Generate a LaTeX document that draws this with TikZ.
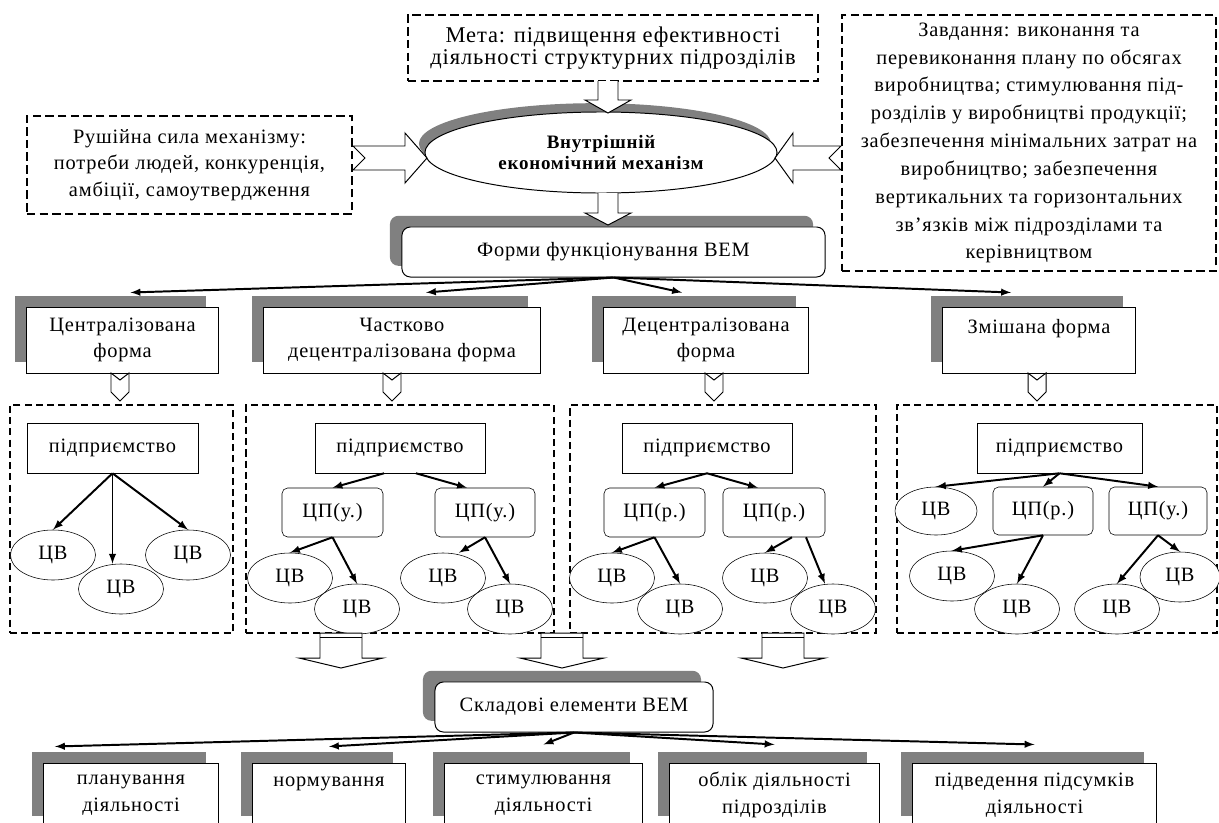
\documentclass[tikz,border=0pt]{standalone}
\usepackage{fontspec}
\setmainfont{Liberation Serif}[LetterSpace=4]
\usepackage{tikz}
\usetikzlibrary{shapes.geometric,shadows}

\tikzset{
  dashbox/.style={draw, dash pattern=on 6pt off 3pt, line width=1.5pt, align=center, inner sep=0pt},
  zone/.style={draw, dash pattern=on 5pt off 3pt, line width=1.3pt, inner sep=0pt},
  shadowbox/.style={draw, fill=white, align=center, inner sep=0pt, line width=0.7pt,
    drop shadow={shadow xshift=-0.3cm, shadow yshift=0.28cm, fill=gray, opacity=1}},
  mech/.style={ellipse, draw, fill=white, align=center, inner sep=0pt, line width=0.7pt,
    minimum width=8.8cm, minimum height=2.025cm, font=\fontsize{13.5}{15}\selectfont\bfseries,
    drop shadow={shadow xshift=-0.15cm, shadow yshift=0.22cm, fill=gray, opacity=1}},
  entbox/.style={draw, fill=white, inner sep=0pt, minimum height=1.25cm},
  cpbox/.style={draw, fill=white, rounded corners=4pt, inner sep=0pt, minimum height=1.225cm},
  cvnode/.style={ellipse, draw, fill=white, inner sep=0pt, minimum width=2.125cm, minimum height=1.25cm},
  link/.style={-latex, line width=1.4pt},
  fatarrow/.style={draw, fill=white, line width=0.7pt}
}

\begin{document}
\begin{tikzpicture}[x=0.025cm, y=-0.025cm, font=\fontsize{14.5}{19}\selectfont]
  \useasboundingbox (0,0) rectangle (1219,823);
  \clip (0,0) rectangle (1219,823);

  \node[dashbox, minimum width=10.25cm, minimum height=1.65cm, font=\fontsize{16}{16}\selectfont] (goal) at (613,48)
    {Мета: підвищення ефективності\\діяльності структурних підрозділів};
  \node[dashbox, minimum width=8.125cm, minimum height=2.45cm] (force) at (189.5,165)
    {Рушійна сила механізму:\\потреби людей, конкуренція,\\амбіції, самоутвердження};
  \node[dashbox, minimum width=9.35cm, minimum height=6.4cm, font=\fontsize{14.5}{19.8}\selectfont] (tasks) at (1029,143)
    {Завдання: виконання та\\перевиконання плану по обсягах\\виробництва; стимулювання під-\\розділів у виробництві продукції;\\забезпечення мінімальних затрат на\\виробництво; забезпечення\\вертикальних та горизонтальних\\зв’язків між підрозділами та\\керівництвом};

  \node[mech] (vem) at (601,152.5) {Внутрішній\\економічний механізм};

  \draw[fatarrow] (598,81) -- (598,100) -- (585,100) -- (608,113) -- (631,100) -- (618,100) -- (618,81);
  \draw[fatarrow] (353,146) -- (405,146) -- (405,133) -- (427,158) -- (405,183) -- (405,170) -- (353,170) -- (365,158) -- cycle;
  \draw[fatarrow] (841,146) -- (793,146) -- (793,133) -- (775,158) -- (793,183) -- (793,170) -- (841,170) -- (829,158) -- cycle;

  \node[shadowbox, rounded corners=6pt, minimum width=10.575cm, minimum height=1.25cm] (forms) at (613.5,252)
    {Форми функціонування ВЕМ};
  \draw[fatarrow] (598,193) -- (598,213) -- (585,213) -- (608,225) -- (631,213) -- (618,213) -- (618,193);

  \node[shadowbox, minimum width=4.775cm, minimum height=1.65cm] (central) at (122.5,340) {Централізована\\форма};
  \node[shadowbox, minimum width=6.9cm, minimum height=1.65cm] (partial) at (402,340) {Частково\\децентралізована форма};
  \node[shadowbox, minimum width=5.1cm, minimum height=1.65cm] (decentral) at (706,340) {Децентралізована\\форма};
  \node[shadowbox, minimum width=4.8cm, minimum height=1.65cm] (mixed) at (1039,340) {Змішана форма\\\mbox{}};

  \draw[link] (forms.south) -- ([xshift=0.2cm,yshift=0.35cm]central.north);
  \draw[link] (forms.south) -- ([xshift=0.6cm,yshift=0.35cm]partial.north);
  \draw[link] (forms.south) -- ([xshift=-0.6cm,yshift=0.35cm]decentral.north);
  \draw[link] (forms.south) -- ([xshift=-0.7cm,yshift=0.35cm]mixed.north);

  \draw[fatarrow] (111,373) -- (120,380) -- (129,373) -- (129,392) -- (120,401) -- (111,392) -- cycle;
  \draw[fatarrow] (383,373) -- (392,380) -- (401,373) -- (401,392) -- (392,401) -- (383,392) -- cycle;
  \draw[fatarrow] (705,373) -- (714,380) -- (723,373) -- (723,392) -- (714,401) -- (705,392) -- cycle;
  \draw[fatarrow] (1028,373) -- (1037,380) -- (1046,373) -- (1046,392) -- (1037,401) -- (1028,392) -- cycle;

  \node[zone, minimum width=5.575cm, minimum height=5.7cm] (zone1) at (121.5,519) {};
  \node[zone, minimum width=7.7cm, minimum height=5.7cm] (zone2) at (400,519) {};
  \node[zone, minimum width=7.65cm, minimum height=5.7cm, line width=1pt] (zone3) at (723,519) {};
  \node[zone, minimum width=8cm, minimum height=5.7cm, line width=1pt] (zone4) at (1057,519) {};

  \node[entbox, minimum width=4.275cm] (ent1) at (112.5,448) {підприємство};
  \node[cvnode] (cv11) at (53,555) {ЦВ};
  \node[cvnode] (cv13) at (188,555) {ЦВ};
  \node[cvnode] (cv12) at (121,589) {ЦВ};
  \draw[link] (ent1.south) -- (cv11.north);
  \draw[link] (ent1.south) -- (ent1.south |- cv12.north);
  \draw[link] (ent1.south) -- (cv13.north);

  \node[entbox, minimum width=4.25cm] (ent2) at (400,448) {підприємство};
  \node[cpbox, minimum width=2.525cm] (cp21) at (332.5,512.5) {ЦП(у.)};
  \node[cpbox, minimum width=2.5cm] (cp22) at (485,512.5) {ЦП(у.)};
  \node[cvnode] (cv21) at (290,578) {ЦВ};
  \node[cvnode] (cv23) at (443,578) {ЦВ};
  \node[cvnode] (cv22) at (357,609) {ЦВ};
  \node[cvnode] (cv24) at (510,609) {ЦВ};
  \draw[link] ([xshift=-0.4cm]ent2.south) -- (cp21.north);
  \draw[link] ([xshift=0.4cm]ent2.south) -- ([xshift=-0.45cm]cp22.north);
  \draw[link] (cp21.south) -- (cv21.north);
  \draw[link] (cp21.south) -- (cv22.north);
  \draw[link] (cp22.south) -- ([xshift=0.4cm]cv23.north);
  \draw[link] (cp22.south) -- (cv24.north);

  \node[entbox, minimum width=4.25cm] (ent3) at (707,448) {підприємство};
  \node[cpbox, minimum width=2.525cm] (cp31) at (654.5,512.5) {ЦП(р.)};
  \node[cpbox, minimum width=2.55cm] (cp32) at (774,512.5) {ЦП(р.)};
  \node[cvnode] (cv31) at (612,578) {ЦВ};
  \node[cvnode] (cv33) at (765,578) {ЦВ};
  \node[cvnode] (cv32) at (680,609) {ЦВ};
  \node[cvnode] (cv34) at (833,609) {ЦВ};
  \draw[link] (ent3.south) -- (cp31.north);
  \draw[link] (ent3.south) -- ([xshift=-0.4cm]cp32.north);
  \draw[link] (cp31.south) -- (cv31.north);
  \draw[link] (cp31.south) -- (cv32.north);
  \draw[link] ([xshift=0.45cm]cp32.south) -- (cv33.north);
  \draw[link] ([xshift=0.8cm]cp32.south) -- ([xshift=-0.2cm]cv34.north);

  \node[entbox, minimum width=4.125cm] (ent4) at (1059.5,448) {підприємство};
  \node[cvnode, minimum width=2.05cm, minimum height=1.2cm] (cv40) at (936,511) {ЦВ};
  \node[cpbox, minimum width=2.5cm, minimum height=1.2cm] (cp41) at (1043,511) {ЦП(р.)};
  \node[cpbox, minimum width=2.45cm, minimum height=1.2cm] (cp42) at (1158,511) {ЦП(у.)};
  \node[cvnode] (cv41) at (952,576) {ЦВ};
  \node[cvnode, minimum width=2cm] (cv44) at (1180,577) {ЦВ};
  \node[cvnode] (cv42) at (1017,609) {ЦВ};
  \node[cvnode] (cv43) at (1117,609) {ЦВ};
  \draw[link] (ent4.south) -- (cv40.north);
  \draw[link] (ent4.south) -- (cp41.north);
  \draw[link] (ent4.south) -- (cp42.north);
  \draw[link] (cp41.south) -- (cv41.north);
  \draw[link] (cp41.south) -- (cv42.north);
  \draw[link] (cp42.south) -- (cv43.north);
  \draw[link] (cp42.south) -- (cv44.north);

  \draw[fatarrow] (320,633) -- (320,658) -- (299,658) -- (341,668) -- (383,658) -- (362,658) -- (362,633) -- cycle;
  \draw[fatarrow] (541,633) -- (541,658) -- (520,658) -- (562,668) -- (604,658) -- (583,658) -- (583,633) -- cycle;
  \draw[fatarrow] (762,633) -- (762,658) -- (741,658) -- (783,668) -- (825,658) -- (804,658) -- (804,633) -- cycle;
  \draw[line width=0.7pt] (320,637) -- (362,637) (541,637) -- (583,637) (762,637) -- (804,637);

  \node[shadowbox, rounded corners=6pt, minimum width=6.95cm, minimum height=1.25cm] (parts) at (574,707)
    {Складові елементи ВЕМ};

  \node[shadowbox, minimum width=4.35cm, minimum height=1.6cm] (plan) at (131,795) {планування\\діяльності};
  \node[shadowbox, minimum width=3.8cm, minimum height=1.6cm] (norm) at (329,795) {нормування\\\mbox{}};
  \node[shadowbox, minimum width=4.925cm, minimum height=1.6cm] (stim) at (543.5,795) {стимулювання\\діяльності};
  \node[shadowbox, minimum width=5.225cm, minimum height=1.6cm] (acct) at (774.5,795) {облік діяльності\\підрозділів};
  \node[shadowbox, minimum width=6.075cm, minimum height=1.6cm] (summ) at (1034.5,795) {підведення підсумків\\діяльності};

  \draw[link] (parts.south) -- ([xshift=-1.9cm,yshift=0.4cm]plan.north);
  \draw[link] (parts.south) -- ([yshift=0.4cm]norm.north);
  \draw[link] (parts.south) -- ([yshift=0.45cm]stim.north);
  \draw[link] (parts.south) -- ([yshift=0.45cm]acct.north);
  \draw[link] (parts.south) -- ([yshift=0.45cm]summ.north);
\end{tikzpicture}
\end{document}
